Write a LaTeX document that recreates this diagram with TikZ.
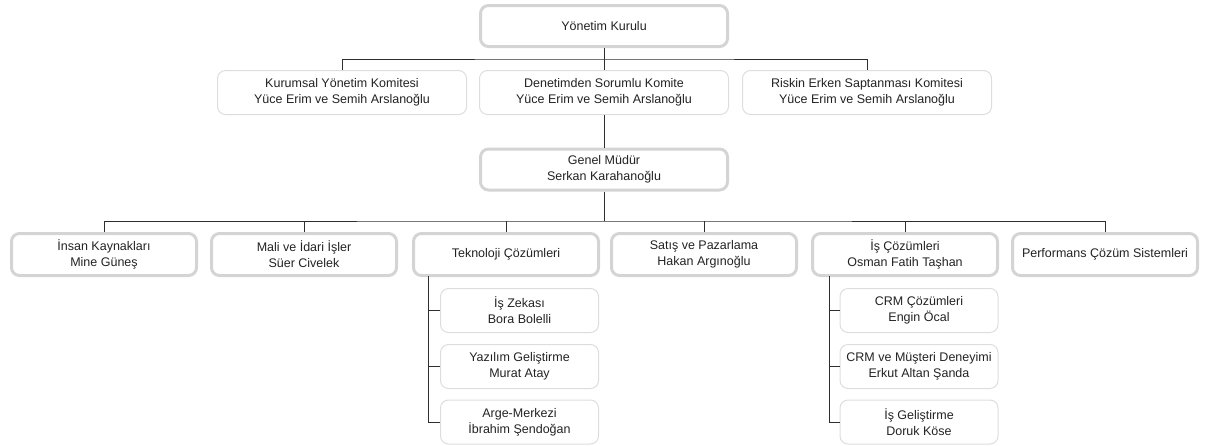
\documentclass[tikz,border=0pt]{standalone}
\usepackage{fontspec}
\setmainfont{Liberation Sans}
\definecolor{thickgrey}{HTML}{D4D4D4}
\definecolor{thingrey}{HTML}{DDDDDD}
\definecolor{wiregrey}{HTML}{2E2E2E}
\definecolor{textgrey}{HTML}{222222}

\begin{document}
\begin{tikzpicture}[x=1pt, y=-1pt,
        box/.style={rounded corners=8pt, align=center, inner sep=0pt, text=textgrey,
                font=\fontsize{12.5}{16}\selectfont},
        bigbox/.style={box, draw=thickgrey, line width=3pt, minimum width=247pt, minimum height=41pt},
        unitbox/.style={bigbox, minimum width=185pt, minimum height=42pt},
        combox/.style={box, draw=thingrey, line width=1pt, minimum width=249pt, minimum height=44pt},
        subbox/.style={box, draw=thingrey, line width=1pt, minimum width=158pt, minimum height=44pt},
        wire/.style={draw=wiregrey, line width=1pt}]
        \useasboundingbox (0,0) rectangle (1208,445);

        \node[bigbox] (yk) at (604,26) {Yönetim Kurulu};

        \node[combox] (kyk) at (342,92.5) {Kurumsal Yönetim Komitesi\\Yüce Erim ve Semih Arslanoğlu};
        \node[combox] (dsk) at (604,92.5) {Denetimden Sorumlu Komite\\Yüce Erim ve Semih Arslanoğlu};
        \node[combox] (rek) at (867,92.5) {Riskin Erken Saptanması Komitesi\\Yüce Erim ve Semih Arslanoğlu};

        \node[bigbox] (gm) at (604,169.5) {Genel Müdür\\Serkan Karahanoğlu};

        \node[unitbox] (ik) at (104,254.5) {İnsan Kaynakları\\Mine Güneş};
        \node[unitbox] (mii) at (304,254.5) {Mali ve İdari İşler\\Süer Civelek};
        \node[unitbox] (tc) at (506,254.5) {Teknoloji Çözümleri};
        \node[unitbox] (sp) at (704,254.5) {Satış ve Pazarlama\\Hakan Argınoğlu};
        \node[unitbox] (ic) at (905,254.5) {İş Çözümleri\\Osman Fatih Taşhan};
        \node[unitbox] (pcs) at (1105,254.5) {Performans Çözüm Sistemleri};

        \node[subbox] (tz1) at (519.5,310.5) {İş Zekası\\Bora Bolelli};
        \node[subbox] (tz2) at (519.5,366.5) {Yazılım Geliştirme\\Murat Atay};
        \node[subbox] (tz3) at (519.5,422) {Arge-Merkezi\\İbrahim Şendoğan};

        \node[subbox] (iz1) at (919,310.5) {CRM Çözümleri\\Engin Öcal};
        \node[subbox] (iz2) at (919,366.5) {CRM ve Müşteri Deneyimi\\Erkut Altan Şanda};
        \node[subbox] (iz3) at (919,422) {İş Geliştirme\\Doruk Köse};

        \coordinate (bus1) at (604,59);
        \coordinate (bus2) at (604,221);
        \coordinate (tctrunk) at (428,276);
        \coordinate (ictrunk) at (829,276);

        \draw[wire] (yk.south) -- (dsk.north);
        \draw[wire] (kyk.north) |- (bus1) -| (rek.north);
        \draw[wire] (dsk.south) -- (gm.north);
        \draw[wire] (gm.south) -- (bus2);
        \draw[wire] (ik.north) |- (bus2) -| (pcs.north);
        \foreach \u in {mii,tc,sp,ic}
                \draw[wire] (\u.north) -- (\u.north |- bus2);

        \draw[wire] (tctrunk) |- (tz3.west);
        \draw[wire] (ictrunk) |- (iz3.west);
        \foreach \s in {tz1,tz2}
                \draw[wire] (\s.west) -- (\s.west -| tctrunk);
        \foreach \s in {iz1,iz2}
                \draw[wire] (\s.west) -- (\s.west -| ictrunk);
    \end{tikzpicture}
\end{document}
